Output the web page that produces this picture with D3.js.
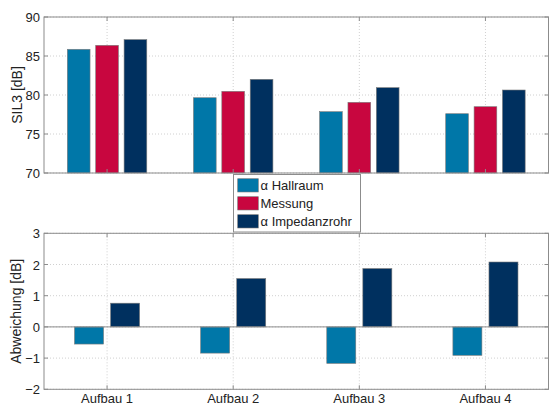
<!DOCTYPE html>
<html>
<head>
<meta charset="utf-8">
<script src="https://cdn.jsdelivr.net/npm/d3@7"></script>
<style>
    body { margin: 0; background: #fff; }
    text { font-family: "Liberation Sans", Arial, sans-serif; }
</style>
</head>
<body>
<div id="chart"></div>
<script>
const categories = ["Aufbau 1", "Aufbau 2", "Aufbau 3", "Aufbau 4"];
const seriesNames = ["\u03b1 Hallraum", "Messung", "\u03b1 Impedanzrohr"];
const hallraum = [85.86, 79.65, 77.86, 77.6];
const messung = [86.37, 80.47, 79.06, 78.5];
const impedanz = [87.1, 82.01, 80.94, 80.64];
const devHallraum = [-0.55, -0.84, -1.17, -0.91];
const devImpedanz = [0.76, 1.55, 1.87, 2.08];
const topTicks = [70, 75, 80, 85, 90];
const bottomTicks = [-2, -1, 0, 1, 2, 3];
const colors = ["#0077a8", "#c8063f", "#00305f"];

const width = 550, height = 405;
const left = 44, right = 548.5;

let svg = d3.select("#chart").append("svg")
    .attr("width", width)
    .attr("height", height);

let x = d3.scaleLinear().domain([0.5, 4.5]).range([left, right]);
let unit = x(1) - x(0);

function drawGrid(y, ticks, top, bottom) {
    let g = svg.append("g");
    categories.forEach((c, i) => {
        g.append("line")
            .attr("x1", x(i + 1)).attr("x2", x(i + 1))
            .attr("y1", top).attr("y2", bottom)
            .attr("stroke", "#d0d0d0").attr("stroke-dasharray", "1,2");
    });
    ticks.forEach(t => {
        g.append("line")
            .attr("x1", left).attr("x2", right)
            .attr("y1", y(t)).attr("y2", y(t))
            .attr("stroke", "#d0d0d0").attr("stroke-dasharray", "1,2");
    });
}

function drawFrame(y, ticks, top, bottom, label, showX) {
    let g = svg.append("g");
    g.append("rect")
        .attr("x", left).attr("y", top)
        .attr("width", right - left).attr("height", bottom - top)
        .attr("fill", "none").attr("stroke", "#8c8c8c").attr("stroke-width", 1);
    ticks.forEach(t => {
        g.append("line").attr("x1", left).attr("x2", left + 4)
            .attr("y1", y(t)).attr("y2", y(t)).attr("stroke", "#8c8c8c");
        g.append("line").attr("x1", right).attr("x2", right - 4)
            .attr("y1", y(t)).attr("y2", y(t)).attr("stroke", "#8c8c8c");
        g.append("text")
            .attr("x", left - 4).attr("y", y(t) + 5)
            .attr("text-anchor", "end")
            .attr("font-size", "13px").attr("fill", "#222")
            .text(t < 0 ? "\u2212" + Math.abs(t) : t);
    });
    categories.forEach((c, i) => {
        g.append("line").attr("x1", x(i + 1)).attr("x2", x(i + 1))
            .attr("y1", top).attr("y2", top + 4).attr("stroke", "#8c8c8c");
        g.append("line").attr("x1", x(i + 1)).attr("x2", x(i + 1))
            .attr("y1", bottom).attr("y2", bottom - 4).attr("stroke", "#8c8c8c");
        if (showX) {
            g.append("text")
                .attr("x", x(i + 1)).attr("y", bottom + 14)
                .attr("text-anchor", "middle")
                .attr("font-size", "13px").attr("fill", "#222")
                .text(c);
        }
    });
    let cy = (top + bottom) / 2;
    g.append("text")
        .attr("x", 21.5).attr("y", cy)
        .attr("text-anchor", "middle")
        .attr("font-size", "14px").attr("fill", "#222")
        .attr("transform", `rotate(-90, 21.5, ${cy})`)
        .text(label);
}

// top panel
let yTop = d3.scaleLinear().domain([70, 90]).range([173, 17]);
drawGrid(yTop, topTicks, 17, 173);
let topSeries = [hallraum, messung, impedanz];
let barW = 0.18 * unit, step = 0.225 * unit;
topSeries.forEach((vals, s) => {
    svg.append("g").selectAll("rect")
        .data(vals)
        .join("rect")
        .attr("x", (d, i) => x(i + 1) + (s - 1) * step - barW / 2)
        .attr("y", d => yTop(d))
        .attr("width", barW)
        .attr("height", d => yTop(70) - yTop(d))
        .attr("fill", colors[s])
        .attr("stroke", "#7a7a7a").attr("stroke-width", 0.6);
});
drawFrame(yTop, topTicks, 17, 173, "SIL3 [dB]", false);

// bottom panel
let yBot = d3.scaleLinear().domain([-2, 3]).range([389.3, 233.3]);
drawGrid(yBot, bottomTicks, 233.3, 389.3);
let botSeries = [[devHallraum, 0], [devImpedanz, 2]];
let barW2 = 0.23 * unit, step2 = 0.143 * unit;
botSeries.forEach(([vals, s], k) => {
    svg.append("g").selectAll("rect")
        .data(vals)
        .join("rect")
        .attr("x", (d, i) => x(i + 1) + (k === 0 ? -step2 : step2) - barW2 / 2)
        .attr("y", d => yBot(Math.max(0, d)))
        .attr("width", barW2)
        .attr("height", d => Math.abs(yBot(d) - yBot(0)))
        .attr("fill", colors[s])
        .attr("stroke", "#7a7a7a").attr("stroke-width", 0.6);
});
svg.append("line")
    .attr("x1", left).attr("x2", right)
    .attr("y1", yBot(0)).attr("y2", yBot(0))
    .attr("stroke", "#8c8c8c");
drawFrame(yBot, bottomTicks, 233.3, 389.3, "Abweichung [dB]", true);

// legend
let lg = svg.append("g");
lg.append("rect")
    .attr("x", 233.5).attr("y", 174.5)
    .attr("width", 127).attr("height", 57.5)
    .attr("fill", "#fff").attr("stroke", "#8c8c8c");
seriesNames.forEach((n, i) => {
    lg.append("rect")
        .attr("x", 237.7).attr("y", 178.7 + i * 18)
        .attr("width", 20.6).attr("height", 13.3)
        .attr("fill", colors[i])
        .attr("stroke", "#7a7a7a").attr("stroke-width", 0.6);
    lg.append("text")
        .attr("x", 260.5).attr("y", 190 + i * 18)
        .attr("font-size", "13px").attr("fill", "#222")
        .text(n);
});
</script>
</body>
</html>
